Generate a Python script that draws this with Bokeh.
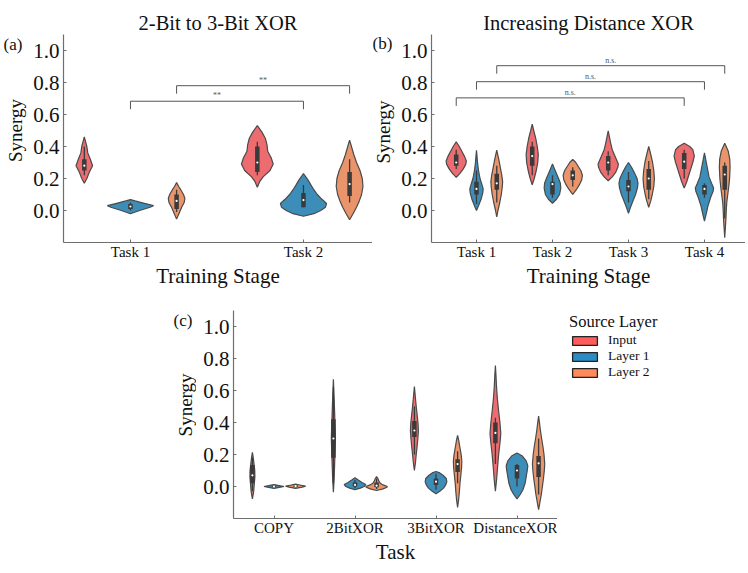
import math
from bokeh.plotting import figure
from bokeh.layouts import row, column
from bokeh.models import (FixedTicker, PrintfTickFormatter, Legend,
                          LegendItem, Spacer, Range1d)
from bokeh.embed import file_html
from bokeh.resources import INLINE
from bokeh.core.properties import value

# ---------------- data ----------------
HUES = ["Input", "Layer 1", "Layer 2"]
VIOLIN_FILL = ["#ec6c70", "#3c8eb9", "#e9946b"]
LEGEND_FILL = ["#ff5c5e", "#2b8cc3", "#ff8a5c"]

A_TICKS = ["Task 1", "Task 2"]
B_TICKS = ["Task 1", "Task 2", "Task 3", "Task 4"]
C_TICKS = ["COPY", "2BitXOR", "3BitXOR", "DistanceXOR"]
Y_TICKS = [0.0, 0.2, 0.4, 0.6, 0.8, 1.0]

# violin outlines: y levels and relative half-widths (1 = full dodge half width)
A_INPUT_Y = [[0.17, 0.20, 0.24, 0.28, 0.32, 0.36, 0.40, 0.46],
             [0.145, 0.18, 0.21, 0.25, 0.29, 0.33, 0.37, 0.41, 0.45, 0.49, 0.53]]
A_INPUT_W = [[0, 0.11, 0.22, 0.36, 0.26, 0.15, 0.11, 0],
             [0, 0.10, 0.25, 0.55, 0.69, 0.60, 0.45, 0.42, 0.35, 0.20, 0]]
A_L1_Y = [[-0.02, 0.0, 0.02, 0.03, 0.045, 0.06, 0.068],
          [-0.036, -0.02, 0.0, 0.02, 0.044, 0.07, 0.10, 0.13, 0.16, 0.19, 0.21, 0.23]]
A_L1_W = [[0, 0.4, 0.85, 1.0, 0.6, 0.2, 0],
          [0, 0.45, 0.75, 0.95, 1.0, 0.8, 0.6, 0.45, 0.32, 0.2, 0.1, 0]]
A_L2_Y = [[-0.054, -0.02, 0.02, 0.05, 0.075, 0.10, 0.13, 0.15, 0.174],
          [-0.058, -0.02, 0.02, 0.06, 0.10, 0.15, 0.20, 0.25, 0.30, 0.35, 0.40, 0.44]]
A_L2_W = [[0, 0.1, 0.22, 0.33, 0.36, 0.3, 0.18, 0.09, 0],
          [0, 0.15, 0.3, 0.42, 0.52, 0.58, 0.55, 0.45, 0.3, 0.18, 0.08, 0]]
# inner box: (q1, median, q3, whisker low, whisker high)
A_INPUT_BOX = [(0.25, 0.28, 0.32, 0.22, 0.40), (0.24, 0.30, 0.40, 0.22, 0.43)]
A_L1_BOX = [(0.01, 0.025, 0.04, 0.0, 0.05), (0.02, 0.065, 0.11, 0.02, 0.16)]
A_L2_BOX = [(0.01, 0.06, 0.10, -0.01, 0.13), (0.09, 0.165, 0.24, 0.05, 0.32)]

B_INPUT_Y = [[0.207, 0.23, 0.26, 0.29, 0.31, 0.34, 0.37, 0.40, 0.43],
             [0.16, 0.2, 0.25, 0.3, 0.35, 0.4, 0.45, 0.5, 0.54],
             [0.186, 0.21, 0.24, 0.27, 0.29, 0.32, 0.35, 0.38, 0.42, 0.46, 0.497],
             [0.14, 0.18, 0.22, 0.26, 0.30, 0.34, 0.38, 0.40, 0.42]]
B_INPUT_W = [[0, 0.35, 0.7, 0.95, 1.0, 0.8, 0.55, 0.3, 0],
             [0, 0.2, 0.4, 0.55, 0.6, 0.5, 0.35, 0.15, 0],
             [0, 0.4, 0.75, 0.95, 1.0, 0.8, 0.6, 0.4, 0.25, 0.12, 0],
             [0, 0.25, 0.45, 0.65, 0.85, 1.0, 0.85, 0.55, 0]]
B_L1_Y = [[0.0, 0.03, 0.07, 0.11, 0.135, 0.16, 0.2, 0.25, 0.3, 0.34, 0.377],
          [0.045, 0.07, 0.1, 0.14, 0.17, 0.2, 0.23, 0.26, 0.29],
          [-0.017, 0.02, 0.06, 0.1, 0.14, 0.17, 0.2, 0.24, 0.27, 0.3],
          [-0.066, -0.02, 0.03, 0.08, 0.12, 0.14, 0.17, 0.21, 0.26, 0.31, 0.36]]
B_L1_W = [[0, 0.2, 0.45, 0.62, 0.66, 0.55, 0.35, 0.2, 0.1, 0.05, 0],
          [0, 0.4, 0.7, 0.82, 0.78, 0.6, 0.4, 0.2, 0],
          [0, 0.2, 0.45, 0.7, 0.88, 0.94, 0.85, 0.55, 0.3, 0],
          [0, 0.18, 0.35, 0.6, 0.85, 0.9, 0.7, 0.45, 0.3, 0.15, 0]]
B_L2_Y = [[-0.04, 0.0, 0.05, 0.1, 0.15, 0.18, 0.22, 0.27, 0.32, 0.377],
          [0.1, 0.13, 0.16, 0.19, 0.22, 0.25, 0.28, 0.30, 0.32],
          [0.02, 0.06, 0.1, 0.15, 0.2, 0.25, 0.3, 0.35, 0.4],
          [-0.17, -0.1, -0.05, 0.0, 0.05, 0.1, 0.15, 0.2, 0.27, 0.32, 0.37, 0.42]]
B_L2_W = [[0, 0.12, 0.3, 0.45, 0.55, 0.58, 0.5, 0.35, 0.2, 0],
          [0, 0.35, 0.65, 0.88, 0.95, 0.8, 0.5, 0.3, 0],
          [0, 0.2, 0.35, 0.5, 0.56, 0.5, 0.38, 0.2, 0],
          [0, 0.07, 0.12, 0.15, 0.2, 0.3, 0.4, 0.48, 0.53, 0.5, 0.35, 0]]
B_INPUT_BOX = [(0.28, 0.30, 0.35, 0.26, 0.38), (0.28, 0.34, 0.40, 0.22, 0.43),
               (0.25, 0.30, 0.34, 0.22, 0.37), (0.26, 0.305, 0.36, 0.20, 0.38)]
B_L1_BOX = [(0.10, 0.135, 0.18, 0.04, 0.25), (0.10, 0.165, 0.18, 0.08, 0.22),
            (0.12, 0.15, 0.19, 0.05, 0.24), (0.10, 0.135, 0.16, 0.08, 0.17)]
B_L2_BOX = [(0.13, 0.17, 0.23, 0.05, 0.28), (0.19, 0.22, 0.25, 0.15, 0.27),
            (0.13, 0.20, 0.26, 0.07, 0.31), (0.13, 0.225, 0.28, -0.05, 0.30)]

C_INPUT_Y = [[-0.077, -0.03, 0.02, 0.06, 0.1, 0.14, 0.18, 0.214],
             [-0.035, 0.05, 0.15, 0.25, 0.3, 0.35, 0.45, 0.55, 0.67],
             [0.1, 0.15, 0.2, 0.25, 0.3, 0.35, 0.4, 0.45, 0.5, 0.55, 0.625],
             [-0.03, 0.05, 0.12, 0.2, 0.27, 0.33, 0.4, 0.47, 0.55, 0.63, 0.7, 0.756]]
C_INPUT_W = [[0, 0.12, 0.18, 0.23, 0.22, 0.15, 0.08, 0],
             [0, 0.07, 0.12, 0.17, 0.19, 0.17, 0.12, 0.07, 0],
             [0, 0.1, 0.17, 0.25, 0.32, 0.37, 0.33, 0.25, 0.17, 0.1, 0],
             [0, 0.12, 0.2, 0.3, 0.42, 0.5, 0.42, 0.3, 0.18, 0.1, 0.05, 0]]
C_L1_Y = [[-0.012, -0.004, 0.0, 0.004, 0.012],
          [-0.02, -0.01, 0.0, 0.012, 0.025, 0.04, 0.054],
          [-0.046, -0.03, -0.01, 0.01, 0.03, 0.05, 0.07, 0.085, 0.094],
          [-0.077, -0.05, -0.02, 0.02, 0.06, 0.1, 0.13, 0.16, 0.19, 0.21]]
C_L1_W = [[0, 0.6, 0.93, 0.6, 0],
          [0, 0.5, 0.85, 1.0, 0.65, 0.3, 0],
          [0, 0.35, 0.7, 0.9, 1.0, 0.95, 0.65, 0.35, 0],
          [0, 0.3, 0.55, 0.75, 0.85, 0.95, 1.0, 0.85, 0.5, 0]]
C_L2_Y = [[-0.012, -0.004, 0.002, 0.008, 0.015],
          [-0.025, -0.015, -0.005, 0.0, 0.01, 0.02, 0.035, 0.05, 0.0625],
          [-0.13, -0.08, -0.03, 0.02, 0.07, 0.12, 0.16, 0.2, 0.25, 0.29, 0.32],
          [-0.144, -0.1, -0.05, 0.0, 0.05, 0.1, 0.14, 0.2, 0.25, 0.3, 0.35, 0.4, 0.44]]
C_L2_W = [[0, 0.6, 0.93, 0.5, 0],
          [0, 0.6, 0.95, 1.0, 0.6, 0.35, 0.2, 0.12, 0],
          [0, 0.1, 0.17, 0.22, 0.3, 0.37, 0.39, 0.33, 0.2, 0.1, 0],
          [0, 0.12, 0.25, 0.35, 0.45, 0.53, 0.57, 0.5, 0.4, 0.28, 0.17, 0.08, 0]]
C_INPUT_BOX = [(0.02, 0.07, 0.135, -0.03, 0.18), (0.18, 0.30, 0.42, 0.02, 0.62),
               (0.31, 0.35, 0.41, 0.20, 0.50), (0.27, 0.335, 0.40, 0.14, 0.43)]
C_L1_BOX = [(-0.003, 0.0, 0.003, -0.006, 0.006), (0.0, 0.01, 0.025, -0.01, 0.04),
            (0.01, 0.03, 0.05, -0.02, 0.08), (0.05, 0.10, 0.135, 0.0, 0.14)]
C_L2_BOX = [(-0.003, 0.002, 0.006, -0.006, 0.01), (-0.005, 0.005, 0.025, -0.015, 0.05),
            (0.09, 0.14, 0.17, 0.02, 0.22), (0.06, 0.145, 0.19, -0.05, 0.30)]

# significance brackets
A_BR_HUE = [1, 2]
A_BR_FROM = [0, 0]
A_BR_TO = [1, 1]
A_BR_Y = [0.683, 0.78]
A_BR_TEXT = ["**", "**"]
B_BR_HUE = [0, 1, 2]
B_BR_FROM = [0, 0, 0]
B_BR_TO = [3, 3, 3]
B_BR_Y = [0.704, 0.805, 0.905]
B_BR_TEXT = ["n.s.", "n.s.", "n.s."]

PANEL_TAGS = ["(a)", "(b)", "(c)"]
Y_LABEL = "Synergy"

# ---------------- styling ----------------
FONT = "Liberation Serif"
DODGE = 0.8 / 3
HALF = DODGE / 2
LEG = 0.05
AX_COL = "#6e6e6e"
BOX_COL = "#3a3a3a"
TXT = "#111111"
NAN = float("nan")
Y_RANGE = (-0.2, 1.1)


def make_fig(width, height, xr, bl, bt, bb, labels, xlabel, title=None):
    p = figure(width=width, height=height, x_range=Range1d(*xr),
               y_range=Range1d(*Y_RANGE), output_backend="svg",
               toolbar_location=None, min_border_left=bl, min_border_top=bt,
               min_border_bottom=bb, min_border_right=0, title=title)
    p.xgrid.visible = False
    p.ygrid.visible = False
    p.outline_line_color = None
    if title:
        p.title.text_font = FONT
        p.title.text_font_size = "20.5px"
        p.title.text_font_style = "normal"
        p.title.text_color = TXT
        p.title.align = "center"
        p.title.standoff = 2
    for ax in (p.xaxis[0], p.yaxis[0]):
        ax.axis_line_color = AX_COL
        ax.axis_line_width = 1.2
        ax.major_tick_line_color = AX_COL
        ax.major_tick_in = 3
        ax.major_tick_out = 0
        ax.minor_tick_line_color = None
        ax.major_label_text_font = FONT
        ax.major_label_text_color = TXT
        ax.axis_label_text_font = FONT
        ax.axis_label_text_font_style = "normal"
        ax.axis_label_text_color = TXT
    p.xaxis.ticker = FixedTicker(ticks=list(range(len(labels))))
    p.xaxis.major_label_overrides = {i: lab for i, lab in enumerate(labels)}
    p.xaxis.major_label_text_font_size = "15px"
    p.xaxis.major_label_standoff = 1
    p.xaxis.axis_label = xlabel
    p.xaxis.axis_label_text_font_size = "21px"
    p.xaxis.axis_label_standoff = 1
    p.yaxis.ticker = FixedTicker(ticks=Y_TICKS)
    p.yaxis.formatter = PrintfTickFormatter(format="%.1f")
    p.yaxis.major_label_text_font_size = "21px"
    p.yaxis.major_label_standoff = 4
    return p


def side_fig(width, height, tag, tag_x, tag_y, tag_base, lab_x, lab_y):
    # narrow strip (frame aligned with its panel) holding the panel tag and
    # the rotated y-axis title; y positions in the panel's own data units
    s = figure(width=width, height=height, x_range=Range1d(0, width),
               y_range=Range1d(*Y_RANGE), output_backend="svg",
               toolbar_location=None, min_border=0, title=None,
               x_axis_location=None, y_axis_location=None)
    s.outline_line_color = None
    s.grid.visible = False
    s.text(x=[tag_x], y=[tag_y], text=[tag], text_font=value(FONT),
           text_font_size="17px", text_align="left", text_baseline=tag_base,
           text_color=TXT)
    s.text(x=[lab_x], y=[lab_y], text=[Y_LABEL], text_font=value(FONT),
           text_font_size="19px", text_align="center", text_baseline="middle",
           angle=math.pi / 2, text_color=TXT)
    return s


def draw_hue(p, hue, ys_list, ws_list, boxes):
    xs_all, ys_all = [], []
    cxs = []
    for t, (ys, ws) in enumerate(zip(ys_list, ws_list)):
        cx = t + (hue - 1) * DODGE
        cxs.append(cx)
        xs_all.append([cx + w * HALF for w in ws] + [cx - w * HALF for w in ws[::-1]])
        ys_all.append(list(ys) + list(ys[::-1]))
    p.patches(xs=xs_all, ys=ys_all, fill_color=VIOLIN_FILL[hue],
              line_color="#4a4a4a", line_width=1.2)
    q1 = [b[0] for b in boxes]
    med = [b[1] for b in boxes]
    q3 = [b[2] for b in boxes]
    lo = [b[3] for b in boxes]
    hi = [b[4] for b in boxes]
    p.segment(x0=cxs, y0=lo, x1=cxs, y1=hi, line_color=BOX_COL, line_width=1.3)
    p.segment(x0=cxs, y0=q1, x1=cxs, y1=q3, line_color=BOX_COL, line_width=4.5,
              line_cap="butt")
    p.scatter(x=cxs, y=med, size=2.2, fill_color="white", line_color=None)


def draw_brackets(p, hues, froms, tos, ys, texts):
    for h, a, b, y, t in zip(hues, froms, tos, ys, texts):
        xa = a + (h - 1) * DODGE
        xb = b + (h - 1) * DODGE
        p.line(x=[xa, xa, xb, xb], y=[y - LEG, y, y, y - LEG],
               line_color="#555555", line_width=1)
        p.text(x=[(xa + xb) / 2], y=[y], text=[t], text_align="center",
               text_baseline="bottom", text_font=value(FONT),
               text_font_size="8px", text_color="#555555", y_offset=-1)


# ---------------- panel (a) ----------------
sa = side_fig(25, 287, PANEL_TAGS[0], 0, 1.037, "middle", 12, 0.50)
fa = make_fig(344, 287, (-0.387, 1.399), 35, 25, 53, A_TICKS,
              "Training Stage", "2-Bit to 3-Bit XOR")
draw_hue(fa, 0, A_INPUT_Y, A_INPUT_W, A_INPUT_BOX)
draw_hue(fa, 1, A_L1_Y, A_L1_W, A_L1_BOX)
draw_hue(fa, 2, A_L2_Y, A_L2_W, A_L2_BOX)
draw_brackets(fa, A_BR_HUE, A_BR_FROM, A_BR_TO, A_BR_Y, A_BR_TEXT)

# ---------------- panel (b) ----------------
sb = side_fig(24, 287, PANEL_TAGS[1], 0, 1.043, "middle", 10.5, 0.49)
fb = make_fig(349, 287, (-0.592, 3.54), 35, 25, 53, B_TICKS,
              "Training Stage", "Increasing Distance XOR")
draw_hue(fb, 0, B_INPUT_Y, B_INPUT_W, B_INPUT_BOX)
draw_hue(fb, 1, B_L1_Y, B_L1_W, B_L1_BOX)
draw_hue(fb, 2, B_L2_Y, B_L2_W, B_L2_BOX)
draw_brackets(fb, B_BR_HUE, B_BR_FROM, B_BR_TO, B_BR_Y, B_BR_TEXT)

# ---------------- panel (c) ----------------
H_C = 275
sc = side_fig(26, H_C, PANEL_TAGS[2], 3, 1.1, "top", 15, 0.51)
fc = make_fig(361, H_C, (-0.5, 3.5), 37, 15, 52, C_TICKS, "Task")
draw_hue(fc, 0, C_INPUT_Y, C_INPUT_W, C_INPUT_BOX)
draw_hue(fc, 1, C_L1_Y, C_L1_W, C_L1_BOX)
draw_hue(fc, 2, C_L2_Y, C_L2_W, C_L2_BOX)

# legend in its own strip to the right of panel (c)
lg = figure(width=140, height=H_C, x_range=Range1d(0, 1), y_range=Range1d(0, 1),
            output_backend="svg", toolbar_location=None, min_border=0, title=None,
            x_axis_location=None, y_axis_location=None)
lg.outline_line_color = None
lg.grid.visible = False
items = []
for i, h in enumerate(HUES):
    r = lg.quad(left=[NAN], right=[NAN], bottom=[NAN], top=[NAN],
                fill_color=LEGEND_FILL[i], line_color="#222222", line_width=1.3)
    items.append(LegendItem(label=h, renderers=[r]))
legend = Legend(items=items, title="Source Layer", location="top_left",
                title_text_font=FONT, title_text_font_size="16.5px",
                title_text_font_style="normal", title_text_color=TXT,
                title_standoff=0,
                label_text_font=FONT, label_text_font_size="13.5px",
                label_text_color=TXT,
                glyph_width=31, glyph_height=11, label_height=12,
                label_standoff=8, spacing=0, padding=5, margin=2,
                border_line_color=None, background_fill_alpha=0)
lg.add_layout(legend, "center")

layout = column(Spacer(width=10, height=8),
                row(Spacer(width=3, height=287), sa, fa, sb, fb),
                row(Spacer(width=170, height=H_C), sc, fc,
                    Spacer(width=10, height=H_C), lg))
open("out.html", "w").write(file_html(layout, INLINE))
